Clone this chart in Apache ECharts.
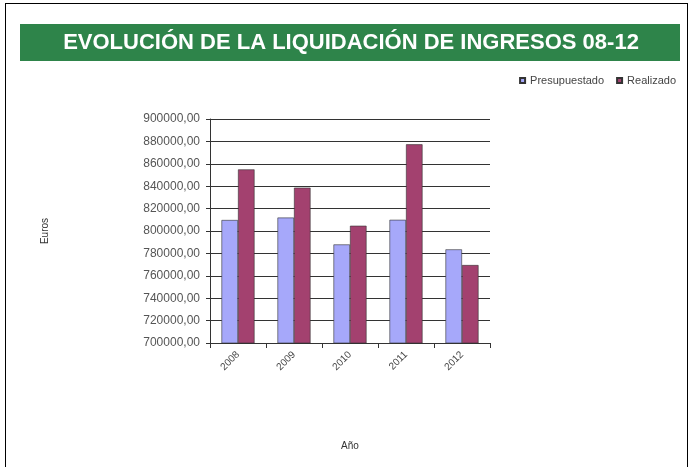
<!DOCTYPE html>
<html>
<head>
<meta charset="utf-8">
<script src="https://cdn.jsdelivr.net/npm/echarts@6/dist/echarts.min.js"></script>
<style>
    html, body{ margin: 0; padding: 0; background: #fff;}
    .frame{ position: absolute; left: 5px; top: 3px; width: 683px; height: 470px; border: 1px solid #000; box-sizing: border-box;}
    #chart1{ width: 693px; height: 467px; position: absolute; left: 0; top: 0;}
</style>
</head>
<body>
<div class="frame"></div>
<div id="chart1"></div>
<script>
    // datos
    var years = ['2008', '2009', '2010', '2011', '2012'];
    var presupuestado = [809800, 812000, 788000, 810000, 783600];
    var realizado = [855000, 838700, 804700, 877400, 769600];
    var yMin = 700000, yMax = 900000, yStep = 20000;

    var chart = echarts.init(document.getElementById('chart1'));
    chart.setOption({
        animation: false,
        graphic: [
            {type: 'rect', shape: {x: 20, y: 24, width: 660, height: 37}, style: {fill: '#2E844A'}},
            {type: 'text', x: 351, y: 43, style: {text: 'EVOLUCIÓN DE LA LIQUIDACIÓN DE INGRESOS 08-12', fill: '#fff',
                font: 'bold 22px "Liberation Sans", Arial, sans-serif', align: 'center', verticalAlign: 'middle'}}
        ],
        legend: {
            right: 12, top: 70, itemWidth: 5, itemHeight: 5, itemGap: 12,
            icon: 'rect',
            textStyle: {fontSize: 11, color: '#444', fontFamily: 'Liberation Sans'},
            data: ['Presupuestado', 'Realizado']
        },
        grid: {left: 210, right: 203, top: 119, bottom: 124},
        xAxis: {
            type: 'category',
            data: years,
            name: 'Año', nameLocation: 'middle', nameGap: 98,
            nameTextStyle: {fontSize: 10, color: '#333', fontFamily: 'Liberation Sans'},
            axisLine: {lineStyle: {color: '#333'}},
            axisTick: {show: true, lineStyle: {color: '#333'}},
            axisLabel: {rotate: 45, fontSize: 10, color: '#444', margin: 10, fontFamily: 'Liberation Sans'}
        },
        yAxis: {
            type: 'value',
            min: yMin, max: yMax, interval: yStep,
            name: 'Euros', nameLocation: 'middle', nameGap: 160, nameRotate: 90,
            nameTextStyle: {fontSize: 10, color: '#333', fontFamily: 'Liberation Sans'},
            axisLine: {show: true, lineStyle: {color: '#333'}},
            axisTick: {show: true, length: 4, lineStyle: {color: '#333'}},
            axisLabel: {fontSize: 12, color: '#555', margin: 10, fontFamily: 'Liberation Sans',
                formatter: function(v){ return v + ',00'; }},
            splitLine: {lineStyle: {color: '#333', width: 1}}
        },
        series: [
            {name: 'Presupuestado', type: 'bar', data: presupuestado, barGap: '0%', barCategoryGap: '41%',
                itemStyle: {color: '#A6A8FA', borderColor: '#333', borderWidth: 0.6}},
            {name: 'Realizado', type: 'bar', data: realizado,
                itemStyle: {color: '#A3416F', borderColor: '#333', borderWidth: 0.6}}
        ]
    });
</script>
</body>
</html>
